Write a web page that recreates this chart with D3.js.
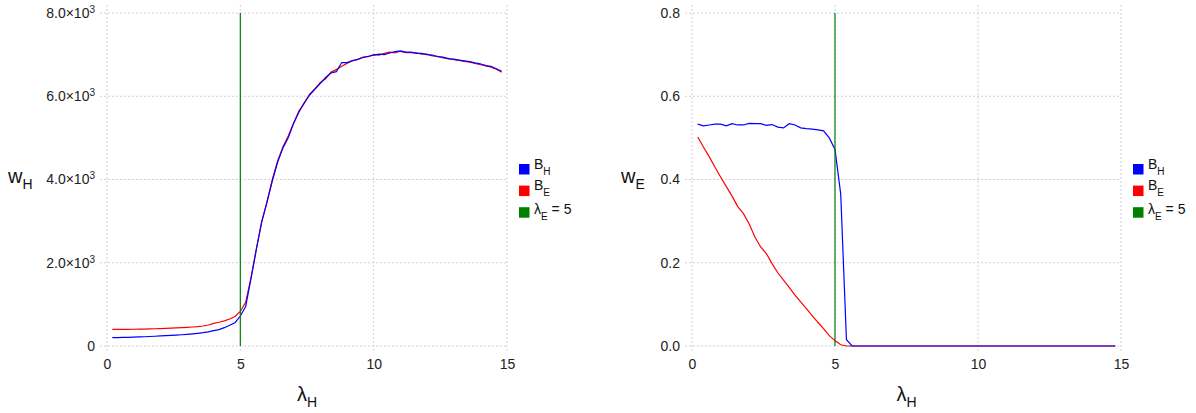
<!DOCTYPE html>
<html>
<head>
<meta charset="utf-8">
<script src="https://d3js.org/d3.v7.min.js"></script>
<style>
  body { margin: 0; background: #fff; }
  svg { font-family: "Liberation Sans", Arial, Helvetica, sans-serif; }
</style>
</head>
<body>
<svg id="chart" width="1196" height="413"></svg>
<script>
  // lambda_H sample points (shared by both panels)
  var lambdaH = [
    0.2, 0.4, 0.6, 0.8, 1.0, 1.2, 1.4, 1.6, 1.8, 2.0,
    2.2, 2.4, 2.6, 2.8, 3.0, 3.2, 3.4, 3.6, 3.8, 4.0,
    4.2, 4.4, 4.6, 4.8, 5.0, 5.2, 5.4, 5.6, 5.8, 6.0,
    6.2, 6.4, 6.6, 6.8, 7.0, 7.2, 7.4, 7.6, 7.8, 8.0,
    8.2, 8.4, 8.6, 8.8, 9.0, 9.2, 9.4, 9.6, 9.8, 10.0,
    10.2, 10.4, 10.6, 10.8, 11.0, 11.2, 11.4, 11.6, 11.8, 12.0,
    12.2, 12.4, 12.6, 12.8, 13.0, 13.2, 13.4, 13.6, 13.8, 14.0,
    14.2, 14.4, 14.6, 14.8
  ];

  // left panel: w_H
  var wH_BH = [
    200, 203, 206, 209, 213, 217, 222, 228, 234, 241,
    248, 255, 262, 270, 280, 292, 305, 320, 340, 368,
    395, 440, 500, 560, 720, 950, 1620, 2320, 2980, 3450,
    3970, 4420, 4760, 5010, 5350, 5620, 5850, 6030, 6170, 6310,
    6450, 6560, 6590, 6810, 6810, 6850, 6890, 6930, 6960, 6990,
    7010, 7000, 7040, 7070, 7090, 7060, 7060, 7030, 7030, 7000,
    6990, 6950, 6940, 6900, 6890, 6870, 6850, 6830, 6800, 6780,
    6730, 6720, 6660, 6600
  ];
  var wH_BE = [
    400, 398, 398, 400, 402, 404, 407, 410, 414, 418,
    423, 428, 434, 440, 447, 456, 466, 480, 505, 545,
    570, 605, 650, 710, 830, 1050, 1640, 2330, 2970, 3470,
    4000, 4450, 4790, 5050, 5360, 5650, 5830, 6050, 6180, 6330,
    6420, 6580, 6640, 6720, 6790, 6860, 6880, 6940, 6950, 7000,
    6990, 7030, 7060, 7040, 7080, 7050, 7050, 7040, 7010, 7010,
    6970, 6960, 6920, 6910, 6880, 6860, 6840, 6820, 6790, 6760,
    6740, 6700, 6650, 6580
  ];

  // right panel: w_E
  var wE_BH = [
    0.533, 0.529, 0.531, 0.533, 0.533, 0.529, 0.534, 0.531, 0.531, 0.535,
    0.534, 0.534, 0.530, 0.532, 0.526, 0.524, 0.534, 0.531, 0.524, 0.522,
    0.521, 0.519, 0.517, 0.500, 0.472, 0.365, 0.015, 0, 0, 0,
    0, 0, 0, 0, 0, 0, 0, 0, 0, 0,
    0, 0, 0, 0, 0, 0, 0, 0, 0, 0,
    0, 0, 0, 0, 0, 0, 0, 0, 0, 0,
    0, 0, 0, 0, 0, 0, 0, 0, 0, 0,
    0, 0, 0, 0
  ];
  var wE_BE = [
    0.502, 0.478, 0.455, 0.430, 0.406, 0.383, 0.360, 0.335, 0.318, 0.293,
    0.262, 0.238, 0.222, 0.198, 0.176, 0.158, 0.141, 0.122, 0.106, 0.090,
    0.073, 0.057, 0.042, 0.025, 0.013, 0.003, 0, 0, 0, 0,
    0, 0, 0, 0, 0, 0, 0, 0, 0, 0,
    0, 0, 0, 0, 0, 0, 0, 0, 0, 0,
    0, 0, 0, 0, 0, 0, 0, 0, 0, 0,
    0, 0, 0, 0, 0, 0, 0, 0, 0, 0,
    0, 0, 0, 0
  ];

  var lambdaE = 5;
  var xTicks = [0, 5, 10, 15];
  var yTicksH = [0, 2000, 4000, 6000, 8000];
  var yTicksE = [0, 0.2, 0.4, 0.6, 0.8];

  var legendItems = [
    { main: "B", sub: "H", after: "", color: "#0000ff" },
    { main: "B", sub: "E", after: "", color: "#ff0000" },
    { main: "λ", sub: "E", after: " = 5", color: "#008000" }
  ];

  var svg = d3.select("#chart");

  function sciLabel(sel, d) {
    // 2000 -> 2.0x10^3
    if (d === 0) { sel.text("0"); return; }
    var e = Math.floor(Math.log10(d));
    var m = d / Math.pow(10, e);
    sel.text(null);
    sel.append("tspan").text(m.toFixed(1) + "×10");
    sel.append("tspan").attr("dy", -5).attr("font-size", 10).text(e);
  }

  function drawPanel(p) {
    var g = svg.append("g");
    var x = d3.scaleLinear().domain([0, 15]).range(p.xr);
    var y = d3.scaleLinear().domain(p.yd).range([346, 13]);

    // grid
    g.selectAll(".vgrid").data(xTicks).enter().append("line")
      .attr("x1", function(d) { return x(d); })
      .attr("x2", function(d) { return x(d); })
      .attr("y1", 5).attr("y2", 352)
      .attr("stroke", "#cfcfe2").attr("stroke-dasharray", "2,2");
    g.selectAll(".hgrid").data(p.yTicks).enter().append("line")
      .attr("x1", x(0) - 7).attr("x2", x(15))
      .attr("y1", function(d) { return y(d); })
      .attr("y2", function(d) { return y(d); })
      .attr("stroke", "#cfcfe2").attr("stroke-dasharray", "2,2");

    // axes (labels only)
    var ya = g.append("g").attr("transform", "translate(" + x(0) + ",0)")
      .call(d3.axisLeft(y).tickValues(p.yTicks).tickSize(0).tickPadding(12));
    var xa = g.append("g").attr("transform", "translate(0," + y(0) + ")")
      .call(d3.axisBottom(x).tickValues(xTicks).tickSize(0).tickPadding(13).tickFormat(d3.format("d")));
    [ya, xa].forEach(function(a) {
      a.select(".domain").remove();
      a.selectAll("text").attr("font-size", 14).attr("fill", "#222")
        .attr("font-family", "Liberation Sans, Arial, sans-serif");
    });
    ya.selectAll(".tick text").each(function(d) { p.fmt(d3.select(this), d); });

    // curves
    var line = d3.line()
      .x(function(d, i) { return x(lambdaH[i]); })
      .y(function(d) { return y(d); });
    g.append("path").datum(p.red).attr("d", line)
      .attr("fill", "none").attr("stroke", "#ff0000").attr("stroke-width", 1.2);
    g.append("path").datum(p.blue).attr("d", line)
      .attr("fill", "none").attr("stroke", "#0000ff").attr("stroke-width", 1.2);

    // lambda_E marker
    g.append("line")
      .attr("x1", x(lambdaE)).attr("x2", x(lambdaE))
      .attr("y1", y(p.yd[1])).attr("y2", y(0))
      .attr("stroke", "#008000").attr("stroke-width", 1.2);

    // axis titles
    var yt = g.append("text").attr("x", p.ytx).attr("y", 183).attr("font-size", 20).attr("fill", "#111");
    yt.append("tspan").text("w");
    yt.append("tspan").attr("dy", 6).attr("font-size", 14).text(p.ysub);
    var xt = g.append("text").attr("x", (p.xr[0] + p.xr[1]) / 2).attr("y", 401)
      .attr("text-anchor", "middle").attr("font-size", 20).attr("fill", "#111");
    xt.append("tspan").text("λ");
    xt.append("tspan").attr("dy", 6).attr("font-size", 14).text("H");

    // legend
    var lg = g.append("g").attr("transform", "translate(" + p.lx + ",164)");
    var row = lg.selectAll("g").data(legendItems).enter().append("g")
      .attr("transform", function(d, i) { return "translate(0," + (i * 21.6) + ")"; });
    row.append("rect").attr("width", 10.5).attr("height", 10.5)
      .attr("fill", function(d) { return d.color; });
    var t = row.append("text").attr("x", 15).attr("y", function(d, i) { return i === 2 ? 6.5 : 4.5; })
      .attr("font-size", 14).attr("fill", "#111");
    t.append("tspan").text(function(d) { return d.main; });
    t.append("tspan").attr("dy", 6).attr("font-size", 10).text(function(d) { return d.sub; });
    t.append("tspan").attr("dy", -6).text(function(d) { return d.after; });
  }

  drawPanel({
    xr: [107, 507], yd: [0, 8000], yTicks: yTicksH, fmt: sciLabel,
    blue: wH_BH, red: wH_BE, ysub: "H", ytx: 8, lx: 519
  });
  drawPanel({
    xr: [692, 1121], yd: [0, 0.8], yTicks: yTicksE,
    fmt: function(sel, d) { sel.text(d3.format(".1f")(d)); },
    blue: wE_BH, red: wE_BE, ysub: "E", ytx: 621, lx: 1133
  });
</script>
</body>
</html>
